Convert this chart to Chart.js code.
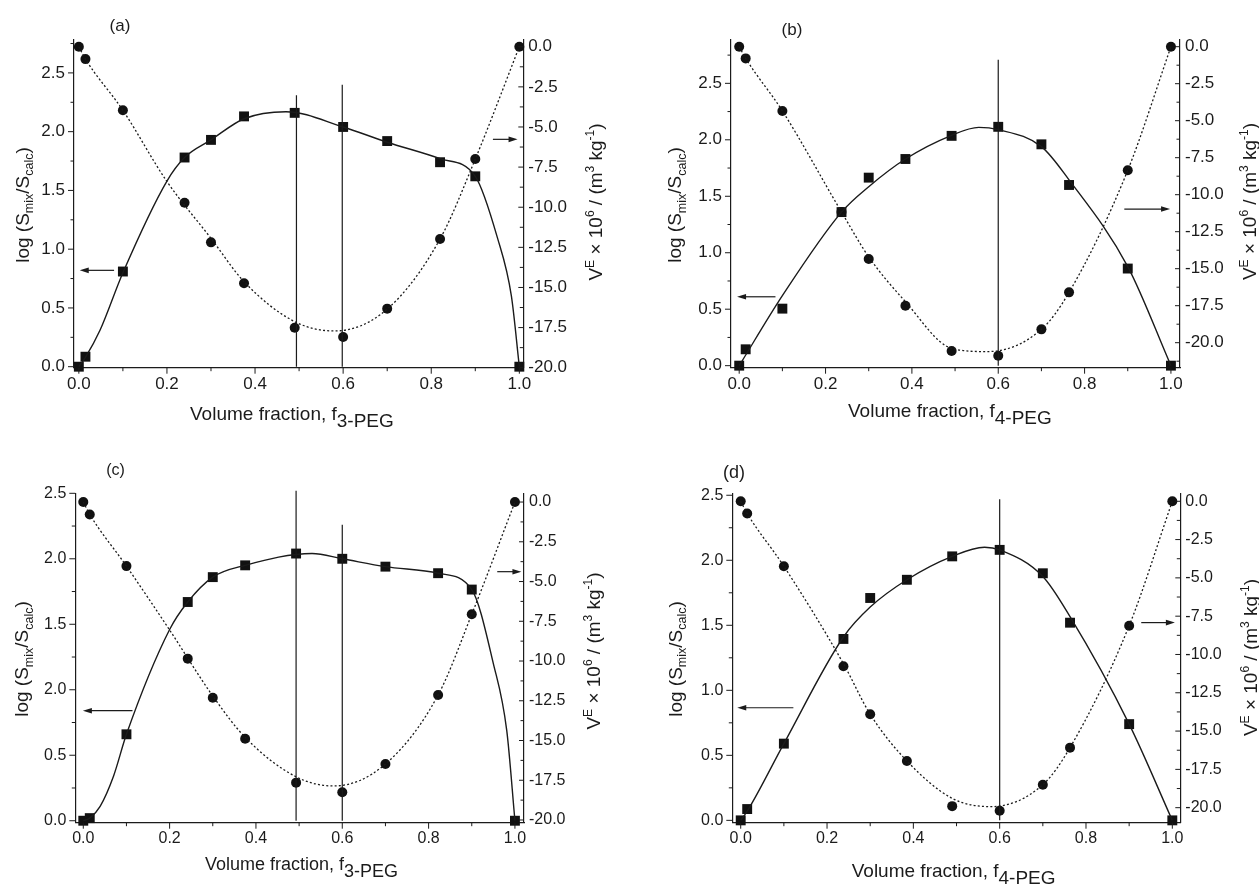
<!DOCTYPE html>
<html>
<head>
<meta charset="utf-8">
<title>Volume fraction plots</title>
<script src="https://cdn.jsdelivr.net/npm/chart.js@4.4.1/dist/chart.umd.min.js"></script>
<style>
  body { margin: 0; background: #fff; }
  #wrap { position: relative; width: 1259px; height: 886px; overflow: hidden; background: #fff; }
  #wrap canvas { position: absolute; }
</style>
</head>
<body>
<div id="wrap">
  <canvas id="chartA" width="629" height="440" style="left:0;top:0"></canvas>
  <canvas id="chartB" width="630" height="440" style="left:629px;top:0"></canvas>
  <canvas id="chartC" width="629" height="446" style="left:0;top:440px"></canvas>
  <canvas id="chartD" width="630" height="446" style="left:629px;top:440px"></canvas>
</div>
<script>
var ink = '#1b1b1b';
var fontFamily = '"Liberation Sans", Arial, Helvetica, sans-serif';

// Ticks (shared)
var xTickVals = [0, 0.1, 0.2, 0.3, 0.4, 0.5, 0.6, 0.7, 0.8, 0.9, 1.0];
var xTickLabels = ['0.0', '', '0.2', '', '0.4', '', '0.6', '', '0.8', '', '1.0'];
var logTickVals = [0, 0.25, 0.5, 0.75, 1.0, 1.25, 1.5, 1.75, 2.0, 2.25, 2.5, 2.75];
var logTickLabels = ['0.0', '', '0.5', '', '1.0', '', '1.5', '', '2.0', '', '2.5', ''];
// panel (c) is printed with "2.0" where 1.0 should be
var logTickLabelsC = ['0.0', '', '0.5', '', '2.0', '', '1.5', '', '2.0', '', '2.5', ''];
var vTickVals = [0, -1.25, -2.5, -3.75, -5, -6.25, -7.5, -8.75, -10, -11.25, -12.5, -13.75, -15, -16.25, -17.5, -18.75, -20, -21.25];
var vTickLabels = ['0.0', '', '-2.5', '', '-5.0', '', '-7.5', '', '-10.0', '', '-12.5', '', '-15.0', '', '-17.5', '', '-20.0', ''];

// (a) 3-PEG
var fracA = [0, 0.015, 0.1, 0.24, 0.3, 0.375, 0.49, 0.6, 0.7, 0.82, 0.9, 1.0];
var logSA = [0, 0.085, 0.81, 1.78, 1.93, 2.13, 2.16, 2.04, 1.92, 1.74, 1.62, 0];
var vEA = [0, -0.77, -3.96, -9.72, -12.19, -14.74, -17.51, -18.09, -16.32, -11.98, -7.0, 0];
var fitSolidXA = [0, 0.015, 0.048, 0.1, 0.2, 0.24, 0.3, 0.375, 0.47, 0.6, 0.7, 0.82, 0.9, 0.95, 0.982, 1.0];
var fitSolidYA = [0, 0.08, 0.31, 0.8, 1.58, 1.78, 1.93, 2.11, 2.17, 2.04, 1.91, 1.77, 1.62, 1.1, 0.6, 0];
var fitDotXA = [0, 0.015, 0.1, 0.2, 0.3, 0.375, 0.49, 0.58, 0.7, 0.82, 0.9, 1.0];
var fitDotYA = [0, -0.77, -3.96, -8.4, -11.94, -14.64, -17.13, -17.71, -16.35, -11.98, -7.0, 0];
var vLineXA = [0.494, 0.598];
var vLineTopA = [2.31, 2.40];
var arrowLA = [0.82, 0.08, 0.002];   // y, from x, to x
var arrowRA = [-5.77, 0.94, 0.996];

// (b) 4-PEG
var fracB = [0, 0.015, 0.1, 0.237, 0.3, 0.385, 0.492, 0.6, 0.7, 0.764, 0.9, 1.0];
var logSB = [0, 0.145, 0.505, 1.36, 1.665, 1.83, 2.035, 2.115, 1.96, 1.60, 0.86, 0];
var vEB = [0, -0.79, -4.34, -11.17, -14.34, -17.5, -20.56, -20.88, -19.1, -16.6, -8.35, 0];
var fitSolidXB = [0, 0.1, 0.237, 0.3, 0.385, 0.492, 0.555, 0.6, 0.7, 0.764, 0.9, 1.0];
var fitSolidYB = [0, 0.62, 1.36, 1.585, 1.83, 2.04, 2.11, 2.09, 1.94, 1.645, 0.877, 0];
var fitDotXB = [0, 0.015, 0.1, 0.237, 0.3, 0.385, 0.492, 0.575, 0.7, 0.764, 0.9, 1.0];
var fitDotYB = [0, -0.79, -4.34, -11.17, -14.2, -17.23, -20.38, -20.6, -19.1, -16.6, -8.35, 0];
var vLineXB = [0.6];
var vLineTopB = [2.71];
var arrowLB = [0.61, 0.084, -0.005];
var arrowRB = [-10.97, 0.892, 0.998];

// (c) 3-PEG
var fracC = [0, 0.015, 0.1, 0.242, 0.3, 0.375, 0.493, 0.6, 0.7, 0.822, 0.9, 1.0];
var logSC = [0, 0.02, 0.66, 1.67, 1.86, 1.95, 2.04, 2.0, 1.94, 1.89, 1.765, 0];
var vEC = [0, -0.78, -4.03, -9.85, -12.31, -14.89, -17.65, -18.26, -16.48, -12.14, -7.06, 0];
var fitSolidXC = [0, 0.015, 0.039, 0.07, 0.1, 0.2, 0.242, 0.3, 0.375, 0.53, 0.6, 0.7, 0.822, 0.9, 0.95, 0.981, 1.0];
var fitSolidYC = [0, 0.02, 0.11, 0.34, 0.66, 1.46, 1.67, 1.86, 1.95, 2.04, 2.0, 1.94, 1.89, 1.765, 1.2, 0.69, 0];
var fitDotXC = [0, 0.015, 0.1, 0.2, 0.3, 0.375, 0.493, 0.58, 0.7, 0.822, 0.9, 1.0];
var fitDotYC = [0, -0.78, -4.03, -8.05, -12.2, -14.8, -17.28, -17.86, -16.48, -12.14, -7.06, 0];
var vLineXC = [0.493, 0.6];
var vLineTopC = [2.52, 2.26];
var arrowLC = [0.84, 0.114, -0.001];
var arrowRC = [-4.38, 0.959, 1.015];

// (d) 4-PEG
var fracD = [0, 0.015, 0.1, 0.238, 0.3, 0.385, 0.49, 0.6, 0.7, 0.763, 0.9, 1.0];
var logSD = [0, 0.087, 0.59, 1.395, 1.71, 1.85, 2.03, 2.08, 1.9, 1.52, 0.74, 0];
var vED = [0, -0.8, -4.24, -10.77, -13.9, -16.95, -19.9, -20.2, -18.5, -16.08, -8.12, 0];
var fitSolidXD = [0, 0.015, 0.1, 0.238, 0.3, 0.385, 0.49, 0.565, 0.6, 0.7, 0.763, 0.9, 1.0];
var fitSolidYD = [0, 0.07, 0.59, 1.41, 1.64, 1.85, 2.03, 2.1, 2.08, 1.875, 1.566, 0.74, 0];
var fitDotXD = [0, 0.015, 0.1, 0.238, 0.3, 0.385, 0.49, 0.58, 0.7, 0.763, 0.9, 1.0];
var fitDotYD = [0, -0.8, -4.24, -10.6, -13.9, -16.95, -19.39, -19.93, -18.5, -16.08, -8.12, 0];
var vLineXD = [0.6];
var vLineTopD = [2.47];
var arrowLD = [0.866, 0.122, -0.008];
var arrowRD = [-7.92, 0.928, 1.006];

function pts(xs, ys) {
    return xs.map(function (x, i) { return { x: x, y: ys[i] }; });
}

function labelFor(vals, labels, v) {
    for (var i = 0; i < vals.length; i++) {
        if (Math.abs(vals[i] - v) < 1e-9) return labels[i];
    }
    return '';
}

function axis(pos, min, max, vals, labels, size, padding, fit) {
    return {
        type: 'linear',
        position: pos,
        min: min,
        max: max,
        grid: { display: false, drawTicks: false },
        border: { display: true, color: ink, width: 1.2 },
        ticks: {
            padding: padding,
            color: ink,
            autoSkip: false,
            maxRotation: 0,
            minRotation: 0,
            font: { family: fontFamily, size: size },
            callback: function (v) { return labelFor(vals, labels, v); }
        },
        afterBuildTicks: function (s) {
            s.ticks = vals.filter(function (v) { return v >= min - 1e-9 && v <= max + 1e-9; })
                .map(function (v) { return { value: v }; });
        },
        afterFit: function (s) {
            if (pos === 'bottom') s.height = fit; else s.width = fit;
        }
    };
}

// text with sub/superscripts: parts are [text, size, baseline shift]
function rich(ctx, parts, x, y, rot, align) {
    ctx.save();
    ctx.translate(x, y);
    ctx.rotate(rot);
    ctx.textAlign = 'left';
    ctx.textBaseline = 'alphabetic';
    var widths = [], total = 0;
    parts.forEach(function (p) {
        ctx.font = p[1] + 'px ' + fontFamily;
        var w = ctx.measureText(p[0]).width;
        widths.push(w);
        total += w;
    });
    var cx = align === 'center' ? -total / 2 : 0;
    parts.forEach(function (p, i) {
        ctx.font = p[1] + 'px ' + fontFamily;
        ctx.fillText(p[0], cx, p[2]);
        cx += widths[i];
    });
    ctx.restore();
}

function arrow(ctx, x0, x1, y) {
    var dir = x1 > x0 ? 1 : -1;
    ctx.beginPath();
    ctx.moveTo(x0, y);
    ctx.lineTo(x1 - dir * 7, y);
    ctx.stroke();
    ctx.beginPath();
    ctx.moveTo(x1, y);
    ctx.lineTo(x1 - dir * 9, y - 2.8);
    ctx.lineTo(x1 - dir * 9, y + 2.8);
    ctx.closePath();
    ctx.fill();
}

var leftTitle = [['log (S', 19, 0], ['mix', 12.5, 4.5], ['/S', 19, 0], ['calc', 12.5, 4.5], [')', 19, 0]];
var rightTitle = [['V', 19, 0], ['E', 12, -8], [' \u00d7 10', 19, 0], ['6', 12, -8], [' / (m', 19, 0],
                  ['3', 12, -8], [' kg', 19, 0], ['-1', 12, -8], [')', 19, 0]];

function decoPlugin(p) {
    return {
        id: 'deco' + p.id,
        afterDraw: function (chart) {
            var ctx = chart.ctx, a = chart.chartArea;
            var sx = chart.scales.x, sy = chart.scales.y, sy2 = chart.scales.y2;
            ctx.save();
            ctx.strokeStyle = ink;
            ctx.fillStyle = ink;
            ctx.lineWidth = 1;
            sx.ticks.forEach(function (t) {
                var px = sx.getPixelForValue(t.value), len = t.label ? 6 : 3.5;
                ctx.beginPath(); ctx.moveTo(px, a.bottom); ctx.lineTo(px, a.bottom + len); ctx.stroke();
            });
            sy.ticks.forEach(function (t) {
                var py = sy.getPixelForValue(t.value), len = t.label ? 6 : 3.5;
                ctx.beginPath(); ctx.moveTo(a.left - len, py); ctx.lineTo(a.left, py); ctx.stroke();
            });
            sy2.ticks.forEach(function (t) {
                var py = sy2.getPixelForValue(t.value), len = t.label ? 5 : 3.5;
                ctx.beginPath(); ctx.moveTo(a.right - len, py); ctx.lineTo(a.right, py); ctx.stroke();
            });
            ctx.lineWidth = 1.2;
            arrow(ctx, sx.getPixelForValue(p.arrowL[1]), sx.getPixelForValue(p.arrowL[2]), sy.getPixelForValue(p.arrowL[0]));
            arrow(ctx, sx.getPixelForValue(p.arrowR[1]), sx.getPixelForValue(p.arrowR[2]), sy2.getPixelForValue(p.arrowR[0]));

            var ox = p.origin[0], oy = p.origin[1];
            rich(ctx, leftTitle, p.lt[0] - ox, p.lt[1] - oy, -Math.PI / 2, 'center');
            rich(ctx, rightTitle, p.rt[0] - ox, p.rt[1] - oy, -Math.PI / 2, 'center');
            rich(ctx, [['Volume fraction, f', p.xtSize, 0], [p.sub, p.xtSize, 6.7]], p.xt[0] - ox, p.xt[1] - oy, 0, 'left');
            ctx.font = p.labelSize + 'px ' + fontFamily;
            ctx.textAlign = 'center';
            ctx.textBaseline = 'middle';
            ctx.fillText(p.label, p.lp[0] - ox, p.lp[1] - oy);
            ctx.restore();
        }
    };
}

function makePanel(p) {
    var datasets = [];
    p.vX.forEach(function (x, i) {
        datasets.push({
            data: [{ x: x, y: 0 }, { x: x, y: p.vTop[i] }],
            showLine: true, borderColor: ink, borderWidth: 1.2, pointRadius: 0, clip: false, yAxisID: 'y'
        });
    });
    datasets.push({
        data: pts(p.fsx, p.fsy), showLine: true, yAxisID: 'y',
        borderColor: ink, borderWidth: 1.4, pointRadius: 0, cubicInterpolationMode: 'monotone'
    });
    datasets.push({
        data: pts(p.fdx, p.fdy), showLine: true, yAxisID: 'y2',
        borderColor: ink, borderWidth: 1.3, borderDash: [2, 2.2], pointRadius: 0, cubicInterpolationMode: 'monotone'
    });
    datasets.push({
        data: pts(p.frac, p.logS), yAxisID: 'y', clip: false,
        pointStyle: 'rect', pointRadius: 7, backgroundColor: '#111', borderColor: '#111', borderWidth: 0
    });
    datasets.push({
        data: pts(p.frac, p.vE), yAxisID: 'y2', clip: false,
        pointStyle: 'circle', pointRadius: 5, backgroundColor: '#111', borderColor: '#111', borderWidth: 0
    });

    var ctx = document.getElementById(p.id).getContext('2d');
    new Chart(ctx, {
        type: 'scatter',
        data: { datasets: datasets },
        options: {
            responsive: false,
            animation: false,
            events: [],
            layout: { padding: { top: p.padTop, left: 0, right: 0, bottom: 0 } },
            plugins: { legend: { display: false }, tooltip: { enabled: false } },
            scales: {
                x: axis('bottom', p.xr[0], p.xr[1], xTickVals, xTickLabels, p.tickSize, 6, p.xh),
                y: axis('left', p.yr[0], p.yr[1], logTickVals, p.logLabels, p.tickSize, 9, p.yw),
                y2: axis('right', p.y2r[0], p.y2r[1], vTickVals, vTickLabels, p.tickSize, 5, p.y2w)
            }
        },
        plugins: [decoPlugin(p)]
    });
}

makePanel({
    id: 'chartA', origin: [0, 0], padTop: 40, yw: 74, y2w: 105.7, xh: 72.3,
    xr: [-0.011, 1.009], yr: [-0.0085, 2.78], y2r: [-20, 0.42], tickSize: 17, logLabels: logTickLabels,
    frac: fracA, logS: logSA, vE: vEA, fsx: fitSolidXA, fsy: fitSolidYA, fdx: fitDotXA, fdy: fitDotYA,
    vX: vLineXA, vTop: vLineTopA, arrowL: arrowLA, arrowR: arrowRA,
    lt: [28.5, 205], rt: [601.5, 202], xt: [190, 420], xtSize: 19, sub: '3-PEG',
    label: '(a)', lp: [120, 26], labelSize: 17
});
makePanel({
    id: 'chartB', origin: [629, 0], padTop: 39.3, yw: 102, y2w: 79, xh: 72.3,
    xr: [-0.019, 1.021], yr: [-0.018, 2.89], y2r: [-21.69, 0.5], tickSize: 17, logLabels: logTickLabels,
    frac: fracB, logS: logSB, vE: vEB, fsx: fitSolidXB, fsy: fitSolidYB, fdx: fitDotXB, fdy: fitDotYB,
    vX: vLineXB, vTop: vLineTopB, arrowL: arrowLB, arrowR: arrowRB,
    lt: [681, 205], rt: [1256, 201.5], xt: [848, 417], xtSize: 19, sub: '4-PEG',
    label: '(b)', lp: [792, 30], labelSize: 17
});
makePanel({
    id: 'chartC', origin: [0, 440], padTop: 53.3, yw: 75.3, y2w: 105, xh: 63.3,
    xr: [-0.0185, 1.021], yr: [-0.015, 2.5], y2r: [-20.17, 0.55], tickSize: 16, logLabels: logTickLabelsC,
    frac: fracC, logS: logSC, vE: vEC, fsx: fitSolidXC, fsy: fitSolidYC, fdx: fitDotXC, fdy: fitDotYC,
    vX: vLineXC, vTop: vLineTopC, arrowL: arrowLC, arrowR: arrowRC,
    lt: [28.3, 659], rt: [600, 651], xt: [205, 870], xtSize: 18, sub: '3-PEG',
    label: '(c)', lp: [115.5, 470.5], labelSize: 16
});
makePanel({
    id: 'chartD', origin: [629, 440], padTop: 53.3, yw: 103.3, y2w: 78.7, xh: 63.3,
    xr: [-0.0195, 1.0185], yr: [-0.018, 2.515], y2r: [-20.98, 0.52], tickSize: 16, logLabels: logTickLabels,
    frac: fracD, logS: logSD, vE: vED, fsx: fitSolidXD, fsy: fitSolidYD, fdx: fitDotXD, fdy: fitDotYD,
    vX: vLineXD, vTop: vLineTopD, arrowL: arrowLD, arrowR: arrowRD,
    lt: [681.5, 659], rt: [1256.5, 657.5], xt: [851.7, 877], xtSize: 19, sub: '4-PEG',
    label: '(d)', lp: [734, 473], labelSize: 18
});
</script>
</body>
</html>
